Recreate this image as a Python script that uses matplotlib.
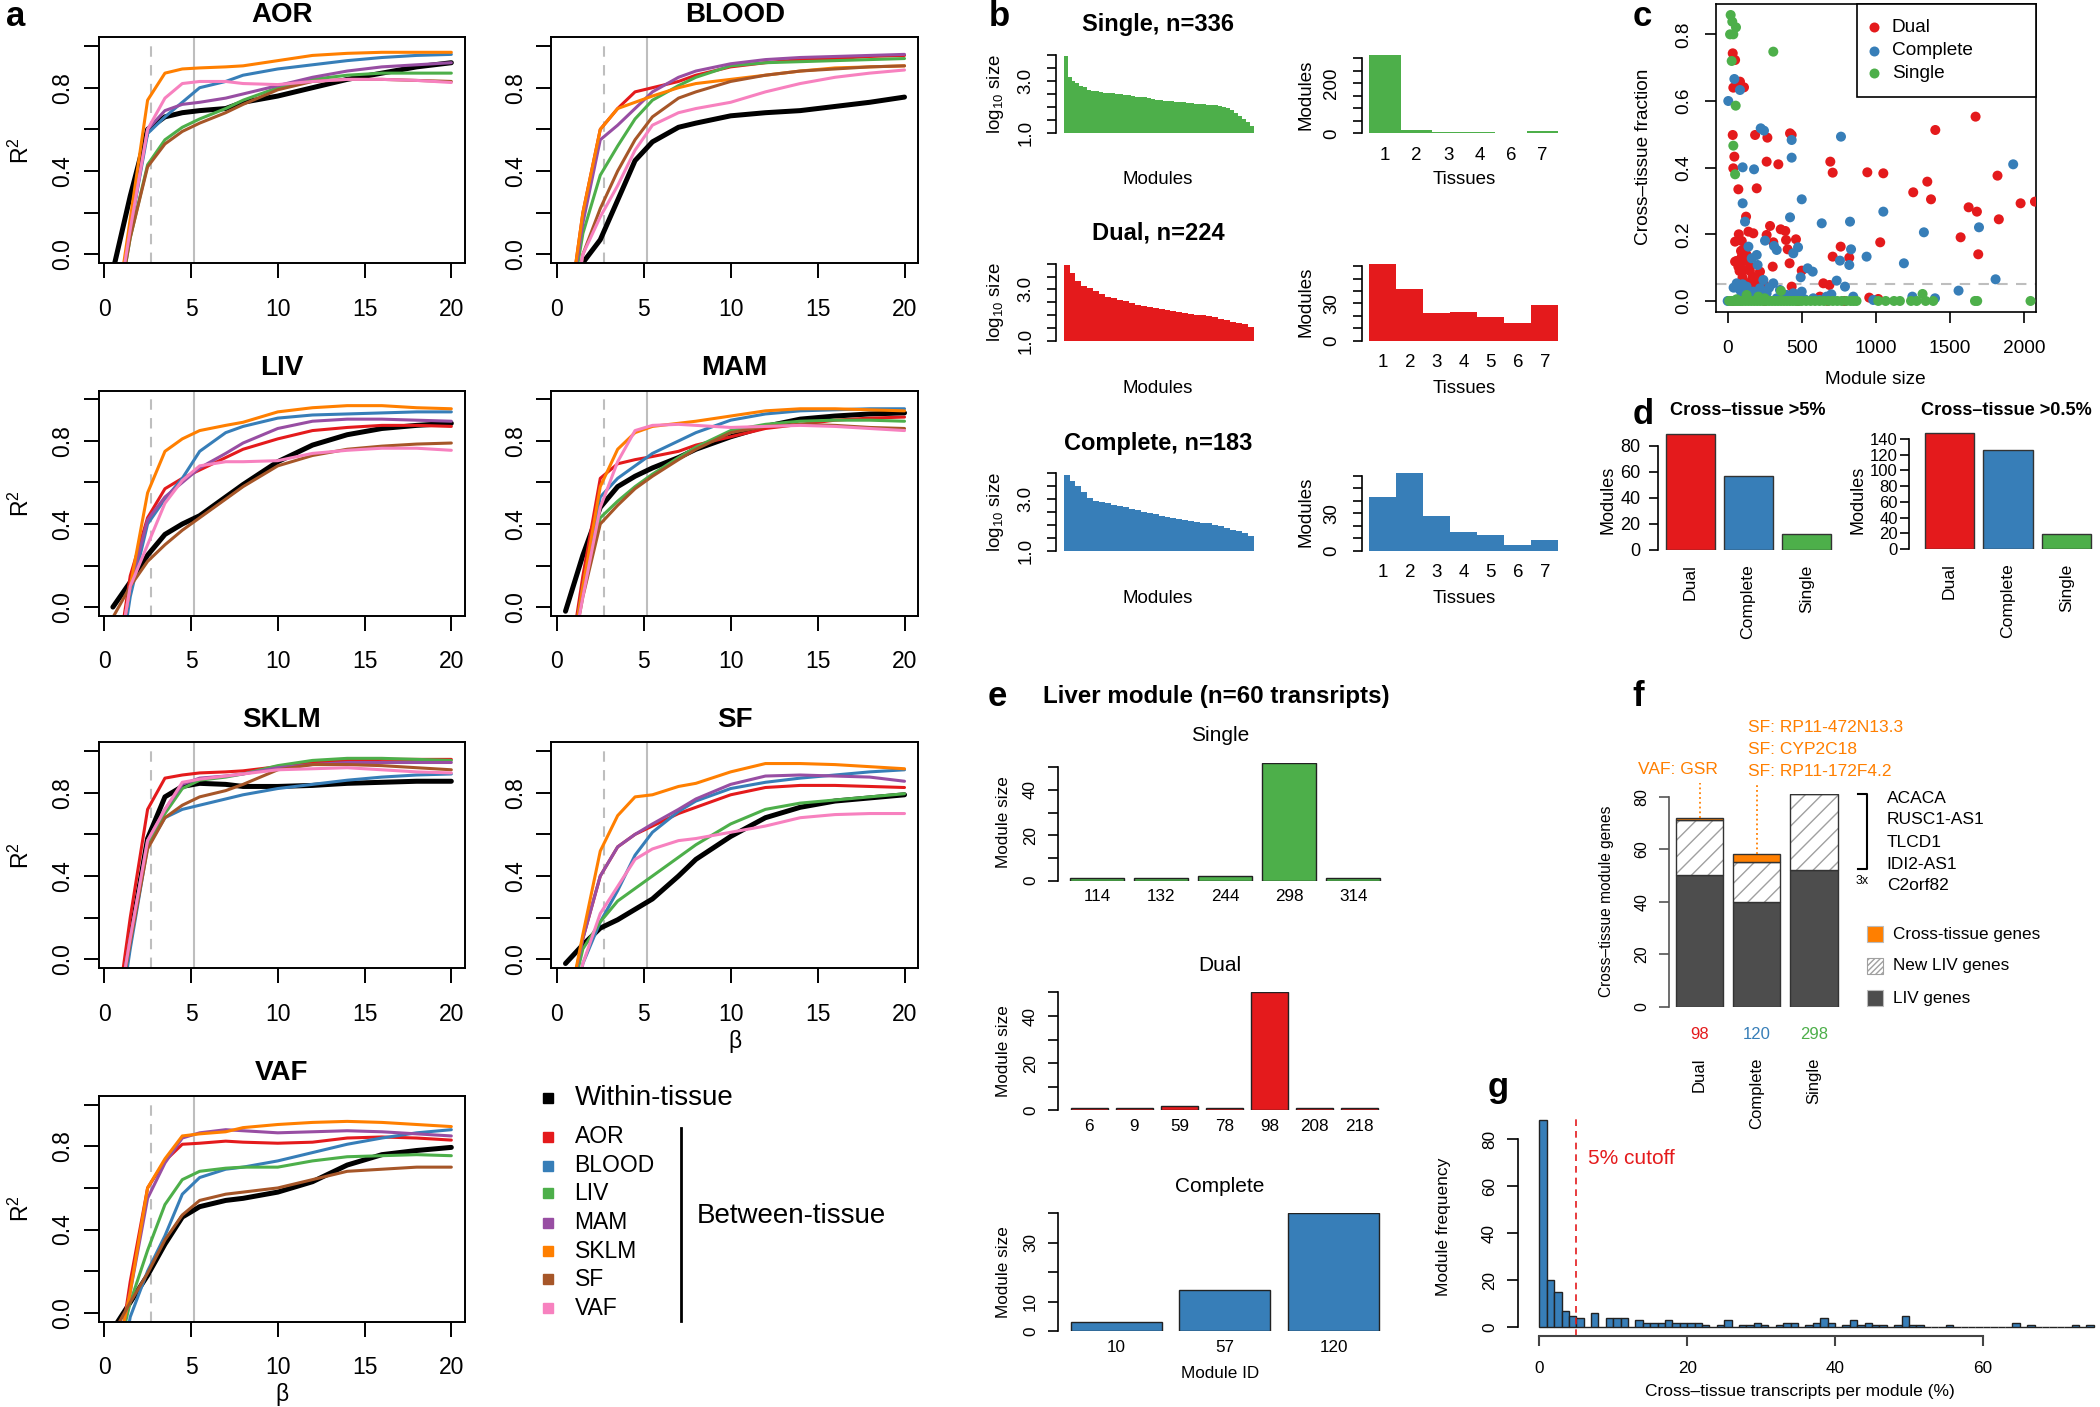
import numpy as np
import matplotlib
matplotlib.use('Agg')
import matplotlib.pyplot as plt
from matplotlib.patches import Rectangle

# ---------------- colours ----------------
RED, BLUE, GREEN, PURPLE = '#E41A1C', '#377EB8', '#4DAF4A', '#984EA3'
ORANGE, BROWN, PINK = '#FF7F00', '#A65628', '#F781BF'
TISSUES = ['AOR', 'BLOOD', 'LIV', 'MAM', 'SKLM', 'SF', 'VAF']
TISSUE_COLORS = [RED, BLUE, GREEN, PURPLE, ORANGE, BROWN, PINK]

# ---------------- panel a data (scale-free fit R^2 vs beta) ----------------
BETA = [0.5, 1.5, 2.5, 3.5, 4.5, 5.5, 7, 8, 10, 12, 14, 16, 18, 20]
r2_AOR = {
    'Within': [-0.08, 0.28, 0.60, 0.66, 0.68, 0.69, 0.70, 0.73, 0.76, 0.80, 0.84, 0.87, 0.90, 0.92],
    'BLOOD': [-0.4, 0.12, 0.58, 0.66, 0.73, 0.80, 0.83, 0.86, 0.89, 0.91, 0.93, 0.945, 0.955, 0.96],
    'LIV': [-0.4, 0.08, 0.43, 0.55, 0.61, 0.65, 0.70, 0.74, 0.80, 0.84, 0.86, 0.87, 0.87, 0.87],
    'MAM': [-0.4, 0.12, 0.60, 0.69, 0.72, 0.73, 0.75, 0.77, 0.81, 0.85, 0.88, 0.90, 0.91, 0.92],
    'SKLM': [-0.4, 0.17, 0.74, 0.87, 0.89, 0.895, 0.90, 0.905, 0.93, 0.955, 0.965, 0.97, 0.97, 0.97],
    'SF': [-0.4, 0.08, 0.42, 0.53, 0.59, 0.63, 0.68, 0.72, 0.79, 0.83, 0.84, 0.84, 0.835, 0.83],
    'VAF': [-0.4, 0.12, 0.60, 0.75, 0.82, 0.83, 0.83, 0.82, 0.815, 0.83, 0.84, 0.84, 0.835, 0.825],
}
r2_BLOOD = {
    'Within': [-0.5, -0.04, 0.07, 0.26, 0.45, 0.54, 0.61, 0.63, 0.665, 0.68, 0.69, 0.71, 0.73, 0.755],
    'AOR': [-0.4, 0.2, 0.60, 0.70, 0.78, 0.80, 0.83, 0.86, 0.90, 0.92, 0.935, 0.94, 0.95, 0.955],
    'LIV': [-0.4, 0.1, 0.38, 0.52, 0.65, 0.74, 0.81, 0.85, 0.905, 0.92, 0.925, 0.93, 0.935, 0.94],
    'MAM': [-0.4, 0.15, 0.55, 0.62, 0.70, 0.78, 0.85, 0.88, 0.915, 0.935, 0.945, 0.95, 0.955, 0.96],
    'SKLM': [-0.4, 0.2, 0.60, 0.70, 0.73, 0.76, 0.80, 0.82, 0.84, 0.86, 0.88, 0.895, 0.90, 0.905],
    'SF': [-0.5, 0.0, 0.22, 0.40, 0.55, 0.66, 0.75, 0.78, 0.83, 0.86, 0.88, 0.89, 0.90, 0.905],
    'VAF': [-0.5, 0.0, 0.18, 0.33, 0.50, 0.62, 0.68, 0.70, 0.73, 0.78, 0.82, 0.85, 0.87, 0.885],
}
r2_LIV = {
    'Within': [0.0, 0.12, 0.25, 0.35, 0.40, 0.44, 0.53, 0.59, 0.70, 0.78, 0.83, 0.86, 0.875, 0.885],
    'AOR': [-0.4, 0.15, 0.43, 0.57, 0.62, 0.66, 0.72, 0.76, 0.81, 0.85, 0.865, 0.875, 0.875, 0.87],
    'BLOOD': [-0.5, 0.05, 0.40, 0.52, 0.62, 0.75, 0.84, 0.87, 0.91, 0.925, 0.93, 0.935, 0.94, 0.94],
    'MAM': [-0.4, 0.1, 0.42, 0.53, 0.60, 0.67, 0.74, 0.79, 0.86, 0.895, 0.905, 0.905, 0.90, 0.895],
    'SKLM': [-0.4, 0.1, 0.55, 0.75, 0.81, 0.85, 0.875, 0.89, 0.94, 0.96, 0.97, 0.97, 0.96, 0.955],
    'SF': [-0.05, 0.1, 0.22, 0.30, 0.37, 0.43, 0.52, 0.58, 0.68, 0.73, 0.76, 0.775, 0.785, 0.79],
    'VAF': [-0.4, 0.1, 0.30, 0.50, 0.61, 0.68, 0.70, 0.70, 0.705, 0.74, 0.755, 0.765, 0.765, 0.755],
}
r2_MAM = {
    'Within': [-0.02, 0.25, 0.48, 0.58, 0.63, 0.67, 0.72, 0.76, 0.82, 0.87, 0.905, 0.92, 0.93, 0.935],
    'AOR': [-0.4, 0.15, 0.62, 0.69, 0.71, 0.725, 0.75, 0.78, 0.82, 0.86, 0.88, 0.90, 0.91, 0.915],
    'BLOOD': [-0.4, 0.1, 0.53, 0.62, 0.68, 0.74, 0.80, 0.84, 0.90, 0.93, 0.945, 0.95, 0.955, 0.955],
    'LIV': [-0.4, 0.08, 0.43, 0.51, 0.58, 0.64, 0.72, 0.77, 0.85, 0.88, 0.895, 0.90, 0.90, 0.895],
    'SKLM': [-0.4, 0.1, 0.58, 0.76, 0.84, 0.87, 0.885, 0.895, 0.92, 0.945, 0.955, 0.955, 0.95, 0.945],
    'SF': [-0.4, 0.05, 0.40, 0.49, 0.57, 0.63, 0.71, 0.76, 0.84, 0.87, 0.88, 0.875, 0.865, 0.86],
    'VAF': [-0.4, 0.05, 0.48, 0.70, 0.85, 0.875, 0.88, 0.875, 0.865, 0.87, 0.875, 0.87, 0.86, 0.85],
}
r2_SKLM = {
    'Within': [-0.4, 0.1, 0.58, 0.78, 0.83, 0.845, 0.84, 0.83, 0.83, 0.835, 0.845, 0.85, 0.855, 0.855],
    'AOR': [-0.4, 0.2, 0.72, 0.87, 0.885, 0.895, 0.90, 0.905, 0.925, 0.945, 0.955, 0.96, 0.96, 0.96],
    'BLOOD': [-0.5, 0.05, 0.54, 0.68, 0.72, 0.74, 0.77, 0.79, 0.82, 0.84, 0.86, 0.875, 0.885, 0.89],
    'LIV': [-0.4, 0.1, 0.55, 0.70, 0.82, 0.86, 0.875, 0.89, 0.93, 0.955, 0.965, 0.965, 0.96, 0.955],
    'MAM': [-0.4, 0.1, 0.57, 0.72, 0.84, 0.87, 0.88, 0.89, 0.92, 0.935, 0.945, 0.945, 0.945, 0.945],
    'SF': [-0.4, 0.08, 0.53, 0.68, 0.74, 0.78, 0.81, 0.84, 0.91, 0.935, 0.935, 0.93, 0.92, 0.91],
    'VAF': [-0.4, 0.1, 0.57, 0.72, 0.85, 0.865, 0.88, 0.89, 0.91, 0.915, 0.92, 0.91, 0.90, 0.895],
}
r2_SF = {
    'Within': [-0.02, 0.07, 0.15, 0.19, 0.24, 0.29, 0.40, 0.48, 0.59, 0.68, 0.73, 0.76, 0.775, 0.79],
    'AOR': [-0.3, 0.1, 0.40, 0.54, 0.60, 0.64, 0.70, 0.73, 0.79, 0.825, 0.835, 0.835, 0.83, 0.825],
    'BLOOD': [-0.5, -0.02, 0.18, 0.33, 0.50, 0.61, 0.71, 0.76, 0.82, 0.85, 0.87, 0.885, 0.90, 0.91],
    'LIV': [-0.3, 0.05, 0.18, 0.28, 0.34, 0.40, 0.49, 0.55, 0.65, 0.72, 0.75, 0.765, 0.78, 0.795],
    'MAM': [-0.3, 0.1, 0.40, 0.54, 0.60, 0.65, 0.72, 0.77, 0.84, 0.88, 0.885, 0.88, 0.875, 0.855],
    'SKLM': [-0.3, 0.12, 0.52, 0.69, 0.78, 0.79, 0.83, 0.845, 0.90, 0.94, 0.94, 0.935, 0.925, 0.915],
    'VAF': [-0.4, -0.02, 0.22, 0.35, 0.48, 0.53, 0.57, 0.58, 0.61, 0.64, 0.68, 0.695, 0.70, 0.70],
}
r2_VAF = {
    'Within': [-0.08, 0.05, 0.18, 0.33, 0.46, 0.51, 0.54, 0.55, 0.58, 0.63, 0.71, 0.76, 0.78, 0.795],
    'AOR': [-0.4, 0.15, 0.60, 0.73, 0.81, 0.815, 0.825, 0.82, 0.815, 0.82, 0.84, 0.845, 0.84, 0.83],
    'BLOOD': [-0.5, -0.02, 0.20, 0.37, 0.57, 0.65, 0.69, 0.70, 0.73, 0.77, 0.81, 0.84, 0.865, 0.88],
    'LIV': [-0.3, 0.05, 0.30, 0.52, 0.64, 0.68, 0.695, 0.70, 0.70, 0.73, 0.75, 0.755, 0.76, 0.755],
    'MAM': [-0.3, 0.1, 0.55, 0.72, 0.84, 0.865, 0.88, 0.875, 0.865, 0.87, 0.875, 0.87, 0.86, 0.85],
    'SKLM': [-0.3, 0.1, 0.60, 0.74, 0.85, 0.86, 0.87, 0.89, 0.905, 0.915, 0.92, 0.915, 0.905, 0.895],
    'SF': [-0.1, 0.05, 0.19, 0.35, 0.47, 0.54, 0.57, 0.58, 0.60, 0.64, 0.68, 0.69, 0.70, 0.70],
}
BETA_CUT_DASHED = 2.69
BETA_CUT_SOLID = 5.17

# ---------------- panel b data ----------------
single_log_sizes = [3.98, 3.15, 3.03, 2.93, 2.84, 2.77, 2.66, 2.63, 2.61, 2.59, 2.57, 2.555, 2.54, 2.525, 2.51, 2.49,
                    2.47, 2.43, 2.41, 2.40, 2.38, 2.37, 2.33, 2.30, 2.28, 2.26, 2.255, 2.24, 2.22, 2.205, 2.19,
                    2.17, 2.155, 2.14, 2.13, 2.115, 2.10, 2.09, 2.08, 2.06, 2.03, 1.97, 1.89, 1.80, 1.67, 1.55,
                    1.42, 1.30]
dual_log_sizes = [3.95, 3.65, 3.32, 3.15, 3.04, 2.93, 2.83, 2.72, 2.66, 2.60, 2.54, 2.47, 2.40, 2.35, 2.31, 2.27,
                  2.24, 2.19, 2.15, 2.11, 2.08, 2.05, 2.02, 1.99, 1.95, 1.91, 1.86, 1.80, 1.75, 1.70, 1.66, 1.52]
complete_log_sizes = [3.92, 3.72, 3.52, 3.28, 3.06, 2.93, 2.89, 2.84, 2.79, 2.75, 2.69, 2.63, 2.57, 2.52, 2.47, 2.41,
                      2.35, 2.30, 2.27, 2.24, 2.21, 2.17, 2.13, 2.09, 2.06, 2.01, 1.95, 1.89, 1.82, 1.75, 1.68, 1.58]
single_tissue_labels = ['1', '2', '3', '4', '6', '7']
single_tissue_counts = [312, 12, 4, 4, 2, 9]
dual_tissue_labels = ['1', '2', '3', '4', '5', '6', '7']
dual_tissue_counts = [62, 42, 22, 23, 19, 14, 29]
complete_tissue_labels = ['1', '2', '3', '4', '5', '6', '7']
complete_tissue_counts = [43, 62, 28, 15, 13, 5, 9]

# ---------------- panel c data (module size, cross-tissue fraction) ----------------
dual_points = [(34, 0.743), (50, 0.723), (38, 0.64), (83, 0.658), (110, 0.641), (34, 0.498), (38, 0.398), (45, 0.433),
               (72, 0.335), (185, 0.498), (196, 0.338), (268, 0.49), (263, 0.418), (342, 0.41), (421, 0.503),
               (432, 0.498), (693, 0.418), (709, 0.385), (943, 0.386), (1051, 0.383), (1253, 0.326), (1348, 0.358),
               (1373, 0.305), (1402, 0.513), (1674, 0.553), (1822, 0.376), (1978, 0.293), (2075, 0.298),
               (1627, 0.281), (1683, 0.268), (1831, 0.245), (1573, 0.191), (1692, 0.14), (1030, 0.176),
               (763, 0.163), (709, 0.133), (821, 0.13), (956, 0.01), (1017, 0.006), (124, 0.253), (140, 0.208),
               (173, 0.203), (50, 0.178), (286, 0.225), (263, 0.198), (358, 0.215), (389, 0.21), (308, 0.176),
               (394, 0.183), (405, 0.155), (461, 0.185), (418, 0.113), (304, 0.103), (500, 0.091), (101, 0.153),
               (95, 0.133), (128, 0.138), (50, 0.118), (72, 0.103), (106, 0.093), (151, 0.103), (169, 0.073),
               (218, 0.088), (196, 0.063), (243, 0.053), (432, 0.043), (646, 0.053), (687, 0.048), (61, 0.043),
               (117, 0.033), (173, 0.023), (623, 0.013), (90, 0.15), (110, 0.12), (130, 0.16), (150, 0.09),
               (80, 0.09), (100, 0.07), (140, 0.05), (160, 0.06), (185, 0.04), (210, 0.03), (230, 0.02),
               (120, 0.02), (60, 0.12), (75, 0.2), (95, 0.18), (34, 0.0), (250, 0.0), (475, 0.0), (675, 0.0),
               (790, 0.0)]
complete_points = [(4, 0.6), (45, 0.666), (83, 0.633), (101, 0.401), (178, 0.395), (223, 0.518), (245, 0.511),
                   (432, 0.483), (432, 0.43), (765, 0.493), (500, 0.305), (101, 0.293), (117, 0.238), (421, 0.251),
                   (635, 0.233), (826, 0.238), (1051, 0.268), (1325, 0.206), (1697, 0.221), (1928, 0.41),
                   (1190, 0.113), (938, 0.133), (833, 0.155), (821, 0.108), (758, 0.121), (140, 0.163),
                   (162, 0.128), (196, 0.138), (202, 0.108), (252, 0.181), (313, 0.165), (331, 0.153),
                   (443, 0.143), (475, 0.161), (540, 0.098), (574, 0.088), (493, 0.071), (241, 0.063),
                   (308, 0.053), (736, 0.061), (792, 0.043), (1809, 0.065), (1559, 0.031), (1400, 0.008),
                   (1247, 0.013), (61, 0.053), (83, 0.033), (128, 0.043), (173, 0.028), (218, 0.038),
                   (263, 0.023), (353, 0.033), (398, 0.018), (443, 0.023), (500, 0.028), (578, 0.008),
                   (668, 0.013), (848, 0.013), (0, 0.0), (83, 0.008), (331, 0.008), (983, 0.003), (40, 0.04),
                   (100, 0.05), (150, 0.02), (280, 0.04), (380, 0.01), (460, 0.02), (520, 0.005), (700, 0.02),
                   (620, 0.003)]
single_points = [(20, 0.858), (31, 0.838), (56, 0.821), (16, 0.8), (38, 0.8), (308, 0.748), (27, 0.72),
                 (54, 0.586), (38, 0.466), (50, 0.38), (360, 0.03), (1316, 0.021), (128, 0.018), (207, 0.013),
                 (60, 0.005), (250, 0.008)]
single_zero_sizes = [10, 25, 40, 55, 70, 85, 100, 120, 140, 160, 180, 200, 220, 240, 260, 280, 300, 320, 340,
                     360, 380, 400, 420, 440, 460, 480, 500, 530, 560, 590, 620, 650, 680, 710, 740, 770, 800,
                     830, 850, 870, 1017, 1067, 1123, 1163, 1238, 1276, 1337, 1388, 1670, 1685, 2045]
CUTOFF_FRACTION = 0.05

# ---------------- panel d data ----------------
classes = ['Dual', 'Complete', 'Single']
class_colors = [RED, BLUE, GREEN]
modules_cross5 = [89, 57, 12]
modules_cross05 = [148, 126, 19]

# ---------------- panel e data ----------------
e_single_ids = ['114', '132', '244', '298', '314']
e_single_sizes = [1, 1, 2, 52, 1]
e_dual_ids = ['6', '9', '59', '78', '98', '208', '218']
e_dual_sizes = [1, 1, 2, 1, 50, 1, 1]
e_complete_ids = ['10', '57', '120']
e_complete_sizes = [3, 14, 40]

# ---------------- panel f data ----------------
f_module_ids = ['98', '120', '298']
f_liv_genes = [50, 40, 52]
f_new_liv_genes = [21, 15, 29]
f_cross_genes = [1, 3, 0]
f_gene_list = ['ACACA', 'RUSC1-AS1', 'TLCD1', 'IDI2-AS1', 'C2orf82']

# ---------------- panel g data (histogram, 1% bins from 0) ----------------
g_counts = [88, 20, 15, 7, 5, 4, 0, 6, 0, 4, 4, 4, 0, 3, 2, 2, 2, 3, 2, 2, 2, 2, 1, 0, 1, 3, 0, 1, 1, 2,
            1, 0, 1, 2, 2, 0, 1, 2, 4, 2, 0, 1, 3, 1, 2, 1, 1, 0, 1, 5, 1, 1, 0, 0, 0, 1, 0, 0, 0, 0,
            0, 0, 0, 0, 2, 0, 1, 0, 0, 0, 0, 0, 1, 0, 1]

# ======================================================================
plt.rcParams['font.family'] = ['Liberation Sans', 'DejaVu Sans']
plt.rcParams['mathtext.fontset'] = 'custom'
plt.rcParams['mathtext.rm'] = 'Liberation Sans'
plt.rcParams['mathtext.it'] = 'Liberation Sans:italic'
plt.rcParams['mathtext.bf'] = 'Liberation Sans:bold'
plt.rcParams['hatch.linewidth'] = 1.0

W, H = 2100, 1407
fig = plt.figure(figsize=(21, 14.07), dpi=100)
PX = 0.72  # points per pixel


def add_ax(x0, y0, x1, y1):
    a = fig.add_axes([x0 / W, 1 - y1 / H, (x1 - x0) / W, (y1 - y0) / H])
    a.patch.set_alpha(0)
    return a


ov = fig.add_axes([0, 0, 1, 1], zorder=10)
ov.set_xlim(0, W)
ov.set_ylim(H, 0)
ov.axis('off')
ov.patch.set_alpha(0)


def txt(x, y, s, size, ha='center', va='center', **kw):
    ov.text(x, y, s, fontsize=size, ha=ha, va=va, **kw)


def only_left(ax, bounds, lw=1.2, color='black', outward=0):
    for s in ['top', 'right', 'bottom']:
        ax.spines[s].set_visible(False)
    ax.spines['left'].set_bounds(*bounds)
    ax.spines['left'].set_linewidth(lw)
    ax.spines['left'].set_color(color)
    if outward:
        ax.spines['left'].set_position(('outward', outward))


# panel labels
for lab, x, y in [('a', 16, 17), ('b', 999, 16), ('c', 1642, 17), ('d', 1643, 414), ('e', 997, 697),
                  ('f', 1638, 696), ('g', 1498, 1088)]:
    txt(x, y, lab, 25, fontweight='bold')

# ======================= panel a =======================
panels_a = [('AOR', r2_AOR), ('BLOOD', r2_BLOOD), ('LIV', r2_LIV), ('MAM', r2_MAM),
            ('SKLM', r2_SKLM), ('SF', r2_SF), ('VAF', r2_VAF)]
cols = [(98.8, 464.7), (551.4, 917.9)]
rows = [(37.3, 263.3), (390.7, 616.0), (742.3, 968.3), (1096.0, 1321.7)]
title_y = [15, 368.3, 720, 1073.3]
for k, (name, d) in enumerate(panels_a):
    r, c = divmod(k, 2)
    x0, x1 = cols[c]
    y0, y1 = rows[r]
    ax = add_ax(x0, y0, x1, y1)
    ax.axvline(BETA_CUT_DASHED, color='#BEBEBE', lw=1.5, ls=(0, (5, 4)))
    ax.axvline(BETA_CUT_SOLID, color='#BEBEBE', lw=1.5)
    ax.plot(BETA, d['Within'], color='black', lw=3.6, solid_joinstyle='round', solid_capstyle='round')
    for t, col in zip(TISSUES, TISSUE_COLORS):
        if t in d:
            ax.plot(BETA, d[t], color=col, lw=2.2, solid_joinstyle='round', solid_capstyle='round')
    ax.set_xlim(-0.311, 20.77)
    ax.set_ylim(-0.043, 1.042)
    ax.set_xticks([0, 5, 10, 15, 20])
    ax.set_yticks([0, 0.2, 0.4, 0.6, 0.8, 1.0], labels=['0.0', '', '0.4', '', '0.8', ''],
                  rotation=90, va='center')
    ax.tick_params(direction='out', length=10.8, width=1.4, labelsize=16.5)
    ax.tick_params(axis='x', pad=14.0)
    ax.tick_params(axis='y', pad=7.0)
    for s in ax.spines.values():
        s.set_linewidth(1.4)
    txt((x0 + x1) / 2, title_y[r], name, 20, fontweight='bold')
    if c == 0:
        txt(21, (y0 + y1) / 2, 'R$^2$', 16.5, rotation=90)
txt(735, 1041.7, 'β', 16.5)
txt(281.7, 1395, 'β', 16.5)

# legend of panel a
ov.plot([548.3], [1098.3], 's', color='black', ms=7)
txt(574.5, 1098.3, 'Within-tissue', 20, ha='left')
leg_y = [1136.7, 1165.7, 1193.3, 1222.7, 1251, 1279.3, 1308.3]
for t, col, yy in zip(TISSUES, TISSUE_COLORS, leg_y):
    ov.plot([548.3], [yy], 's', color=col, ms=7)
    txt(574.5, yy, t, 16.5, ha='left')
ov.plot([680.6, 680.6], [1128.3, 1321], color='black', lw=2)
txt(697, 1215.7, 'Between-tissue', 20, ha='left')

# ======================= panel b =======================
b_rows = [(55.4, 133.3), (263.7, 340.8), (473.3, 550.8)]
b_titles = ['Single, n=336', 'Dual, n=224', 'Complete, n=183']
b_title_y = [24.5, 233.3, 443.6]
b_label_y = [179.9, 388.3, 598.3]
b_area = [single_log_sizes, dual_log_sizes, complete_log_sizes]
b_hist = [(single_tissue_labels, single_tissue_counts, [0, 50, 100, 150, 200, 250, 300],
           ['0', '', '', '', '200', '', '']),
          (dual_tissue_labels, dual_tissue_counts, [0, 10, 20, 30, 40, 50, 60], ['0', '', '', '30', '', '', '']),
          (complete_tissue_labels, complete_tissue_counts, [0, 10, 20, 30, 40, 50, 60],
           ['0', '', '', '30', '', '', ''])]
b_cols = [GREEN, RED, BLUE]
for i in range(3):
    y0, y1 = b_rows[i]
    col = b_cols[i]
    # sorted module sizes
    ax = add_ax(1063.6, y0, 1253.6, y1)
    vals = np.array(b_area[i])
    ax.bar(np.arange(len(vals)), vals - 1.0, bottom=1.0, width=1.0, color=col, linewidth=0)
    ax.set_xlim(-0.5, len(vals) - 0.5)
    ax.set_ylim(1.0, 4.0)
    only_left(ax, (1.0, 4.0), outward=7.4 * PX)
    ax.set_xticks([])
    ax.set_yticks([1.0, 1.5, 2.0, 2.5, 3.0, 3.5, 4.0], labels=['1.0', '', '', '', '3.0', '', ''],
                  rotation=90, va='center')
    ax.tick_params(axis='y', direction='out', length=6.2, width=1.2, labelsize=13.5, pad=9.5)
    txt(995.5, (y0 + y1) / 2, 'log$_{10}$ size', 13.5, rotation=90)
    txt(1158, b_label_y[i], 'Modules', 13.5)
    txt(1158, b_title_y[i], b_titles[i], 17, fontweight='bold')
    # tissues histogram
    labs, cnts, yt, ytl = b_hist[i]
    ax2 = add_ax(1369.3, y0, 1558.4, y1)
    ax2.bar(np.arange(len(cnts)), cnts, width=1.0, color=col, linewidth=0)
    ax2.set_xlim(-0.5, len(cnts) - 0.5)
    ax2.set_ylim(0, max(cnts))
    only_left(ax2, (yt[0], yt[-1]), outward=7.3 * PX)
    ax2.set_xticks(np.arange(len(cnts)), labels=labs)
    ax2.tick_params(axis='x', length=0, labelsize=13.5, pad=9.7)
    ax2.set_yticks(yt, labels=ytl, rotation=90, va='center')
    ax2.tick_params(axis='y', direction='out', length=6.2, width=1.2, labelsize=13.5, pad=9.6)
    txt(1305.6, (y0 + y1) / 2, 'Modules', 13.5, rotation=90)
    txt(1463.9, b_label_y[i], 'Tissues', 13.5)

# ======================= panel c =======================
ax = add_ax(1715.7, 4, 2035.7, 312.3)
ax.axhline(CUTOFF_FRACTION, color='#BEBEBE', lw=1.5, ls=(0, (5, 4)))
for pts, col in [(dual_points, RED), (complete_points, BLUE), (single_points, GREEN)]:
    xs, ys = zip(*pts)
    ax.scatter(xs, ys, s=52, color=col, edgecolors='none', zorder=3)
ax.scatter(single_zero_sizes, [0.0] * len(single_zero_sizes), s=52, color=GREEN, edgecolors='none', zorder=3)
ax.set_xlim(-81, 2080)
ax.set_ylim(-0.034, 0.891)
ax.set_xticks([0, 500, 1000, 1500, 2000])
ax.set_yticks([0, 0.2, 0.4, 0.6, 0.8], labels=['0.0', '0.2', '0.4', '0.6', '0.8'], rotation=90, va='center')
ax.tick_params(direction='out', length=7.7, width=1.2, labelsize=13.7)
ax.tick_params(axis='x', pad=12.5)
ax.tick_params(axis='y', pad=9.0)
for s in ax.spines.values():
    s.set_linewidth(1.2)
txt(1643.3, 156.7, 'Cross–tissue fraction', 13.7, rotation=90)
txt(1875.7, 380, 'Module size', 13.7)
ov.add_patch(Rectangle((1856.7, 4), 179, 92.7, facecolor='white', edgecolor='black', lw=1.2, zorder=1))
for lab, col, yy in [('Dual', RED, 27.3), ('Complete', BLUE, 50.7), ('Single', GREEN, 73.3)]:
    ov.plot([1874], [yy], 'o', color=col, ms=7.2, mec='none', zorder=2)
    txt(1891.7, yy, lab, 13.7, ha='left', zorder=2)

# ======================= panel d =======================
for (x0, y0, x1, y1, vals, xlim, ylim, bnd, yt, title, tx, ylx, lpad, lsz) in [
        (1658.3, 433, 1837, 550, modules_cross5, (-0.546, 2.53), (0, 90), (0, 80), [0, 20, 40, 60, 80],
         'Cross–tissue >5%', 1747.7, 1608.3, 6.0, 13),
        (1909.3, 431.1, 2095, 549, modules_cross05, (-0.689, 2.49), (0, 150), (0, 140),
         [0, 20, 40, 60, 80, 100, 120, 140], 'Cross–tissue >0.5%', 2006.7, 1858.3, 1.5, 12)]:
    ax = add_ax(x0, y0, x1, y1)
    ax.bar([0, 1, 2], vals, width=0.843, color=class_colors, edgecolor='#333333', lw=1.0)
    ax.set_xlim(*xlim)
    ax.set_ylim(*ylim)
    only_left(ax, bnd)
    ax.set_yticks(yt)
    ax.tick_params(axis='y', direction='out', length=6.7, width=1.2, labelsize=lsz, pad=lpad)
    ax.set_xticks([0, 1, 2], labels=classes, rotation=90, va='top', ha='center')
    ax.tick_params(axis='x', length=0, labelsize=12.6, pad=10.5)
    txt(tx, 410.7, title, 13.1, fontweight='bold')
    txt(ylx, 500, 'Modules', 13, rotation=90)

# ======================= panel e =======================
txt(1216.3, 696.8, 'Liver module (n=60 transripts)', 17.4, fontweight='bold')
e_specs = [
    (762.6, 880.6, e_single_ids, e_single_sizes, GREEN, (-0.605, 4.45), 0.844, 52, [0, 10, 20, 30, 40, 50],
     ['0', '', '20', '', '40', ''], 'Single', 735.8),
    (992.4, 1110.4, e_dual_ids, e_dual_sizes, RED, (-0.689, 6.5), 0.833, 50, [0, 10, 20, 30, 40, 50],
     ['0', '', '20', '', '40', ''], 'Dual', 965.2),
    (1212.9, 1331.3, e_complete_ids, e_complete_sizes, BLUE, (-0.533, 2.445), 0.837, 40, [0, 10, 20, 30, 40],
     ['0', '10', '', '30', ''], 'Complete', 1186.1)]
for (y0, y1, ids, sizes, col, xlim, wd, ymax, yt, ytl, ttl, tty) in e_specs:
    ax = add_ax(1058.3, y0, 1382, y1)
    ax.bar(np.arange(len(sizes)), sizes, width=wd, color=col, edgecolor='#222222', lw=1.0)
    ax.set_xlim(*xlim)
    ax.set_ylim(0, ymax)
    only_left(ax, (yt[0], yt[-1]))
    ax.set_yticks(yt, labels=ytl, rotation=90, va='center')
    ax.tick_params(axis='y', direction='out', length=7.2, width=1.2, labelsize=12.3, pad=7.4)
    ax.set_xticks(np.arange(len(sizes)), labels=ids)
    ax.tick_params(axis='x', length=0, labelsize=12.3, pad=6.2)
    txt(1220, tty, ttl, 15)
    txt(1003.3, (y0 + y1) / 2, 'Module size', 12.3, rotation=90)
txt(1220, 1373.6, 'Module ID', 12.3)

# ======================= panel f =======================
ax = add_ax(1669.3, 794.1, 1842, 1006.7)
xf = np.arange(3)
liv = np.array(f_liv_genes)
new = np.array(f_new_liv_genes)
cross = np.array(f_cross_genes)
ax.bar(xf, liv, width=0.835, color='#4D4D4D', edgecolor='#333333', lw=1.0)
ax.bar(xf, new, bottom=liv, width=0.835, color='white', edgecolor='#A0A0A0', hatch='//', lw=0)
ax.bar(xf, new, bottom=liv, width=0.835, fill=False, edgecolor='#333333', lw=1.0)
ax.bar(xf, cross, bottom=liv + new, width=0.835, color=ORANGE, edgecolor='#333333', lw=1.0)
ax.set_xlim(-0.529, 2.496)
ax.set_ylim(0, 81)
only_left(ax, (0, 80), color='#555555')
ax.set_yticks([0, 20, 40, 60, 80], labels=['0', '20', '40', '60', '80'], rotation=90, va='center')
ax.tick_params(axis='y', direction='out', length=7.4, width=1.2, labelsize=11.5, pad=7.1, color='#555555')
ax.set_xticks(xf, labels=f_module_ids)
ax.tick_params(axis='x', length=0, labelsize=12, pad=14.6)
for lab, col in zip(ax.get_xticklabels(), class_colors):
    lab.set_color(col)
for i, cat in enumerate(classes):
    ax.annotate(cat, xy=(i, 0), xycoords='data', xytext=(0, -(1058 - 1006.7) * PX), textcoords='offset points',
                rotation=90, ha='center', va='top', fontsize=12)
tops = liv + new + cross
ax.plot([0, 0], [tops[0], 85.1], ls=':', color=ORANGE, lw=1.3, clip_on=False)
ax.plot([1, 1], [tops[1], 84.8], ls=':', color=ORANGE, lw=1.3, clip_on=False)
txt(1638.3, 770, 'VAF: GSR', 12.5, ha='left', color=ORANGE)
for s, yy in [('SF: RP11-472N13.3', 727.7), ('SF: CYP2C18', 749.3), ('SF: RP11-172F4.2', 771)]:
    txt(1748.3, yy, s, 12.5, ha='left', color=ORANGE)
txt(1606.7, 901.7, 'Cross–tissue module genes', 11.2, rotation=90)
ov.plot([1858, 1866.7, 1866.7, 1858], [794, 794, 869, 869], color='black', lw=1.5)
txt(1862, 881, '3x', 9)
for g, yy in zip(f_gene_list, [798.3, 820, 842.3, 864.3, 886]):
    txt(1886.7, yy, g, 12.5, ha='left')
ov.add_patch(Rectangle((1866.7, 926.3), 16, 16, facecolor=ORANGE, edgecolor='#BBBBBB', lw=0.8))
ov.add_patch(Rectangle((1866.7, 957.7), 16, 16, facecolor='white', edgecolor='#A0A0A0', hatch='//////', lw=0.8))
ov.add_patch(Rectangle((1866.7, 990.3), 16, 16, facecolor='#4D4D4D', edgecolor='#BBBBBB', lw=0.8))
txt(1892.7, 934.3, 'Cross-tissue genes', 12.3, ha='left')
txt(1892.7, 965.7, 'New LIV genes', 12.3, ha='left')
txt(1892.7, 998.3, 'LIV genes', 12.3, ha='left')

# ======================= panel g =======================
ax = add_ax(1517.6, 1115, 2100, 1336)
ax.bar(np.arange(len(g_counts)), g_counts, width=1.0, align='edge', color=BLUE, edgecolor='#222222', lw=1.0)
ax.axvline(CUTOFF_FRACTION * 100, color=RED, ls=(0, (4, 3)), lw=1.2)
ax.set_xlim(-2.94, 75.85)
ax.set_ylim(-3.7, 90.2)
for s in ['top', 'right']:
    ax.spines[s].set_visible(False)
ax.spines['left'].set_bounds(0, 80)
ax.spines['bottom'].set_bounds(0, 60)
ax.spines['left'].set_linewidth(1.2)
ax.spines['bottom'].set_linewidth(1.5)
ax.spines['bottom'].set_color('#444444')
ax.set_yticks([0, 20, 40, 60, 80], labels=['0', '20', '40', '60', '80'], rotation=90, va='center')
ax.set_xticks([0, 20, 40, 60])
ax.tick_params(axis='y', direction='out', length=7.8, width=1.2, labelsize=12.3, pad=7.0)
ax.tick_params(axis='x', direction='out', length=7.2, width=1.5, labelsize=12.3, pad=10.5, color='#444444')
txt(1588.3, 1159, '5% cutoff', 15, ha='left', color=RED)
txt(1443.9, 1226.7, 'Module frequency', 12.5, rotation=90)
txt(1799.4, 1391.7, 'Cross–tissue transcripts per module (%)', 12.5)

fig.savefig('out.png', dpi=100)
